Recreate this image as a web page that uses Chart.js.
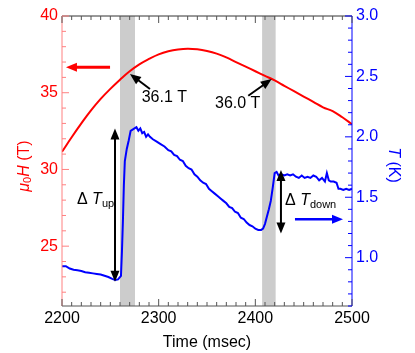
<!DOCTYPE html>
<html>
<head>
<meta charset="utf-8">
<script src="https://cdn.jsdelivr.net/npm/chart.js@4"></script>
<style>
  html,body{margin:0;padding:0;background:#fff}
</style>
</head>
<body>
<canvas id="mychart" width="415" height="353"></canvas>
<script>
// magnetic field pulse (left axis, T)
var fieldTime=[2200,2210,2220,2230,2240,2250,2260,2270,2280,2290,2300,2310,2320,2330,2340,2350,2360,2370,2380,2390,2400,2410,2420,2430,2440,2450,2460,2470,2480,2490,2500]
var fieldValues=[31.15,32.1,33.0,33.85,34.6,35.25,35.85,36.4,36.85,37.2,37.5,37.7,37.82,37.87,37.83,37.72,37.55,37.3,37.0,36.7,36.4,36.1,35.8,35.45,35.1,34.75,34.4,34.05,33.8,33.4,32.95]

// sample temperature (right axis, K)
var tempTime=[2200,2204,2208,2212,2216,2220,2224,2228,2232,2236,2240,2244,2248,2252,2255,2258,2261,2262,2263,2264,2265,2267,2269,2271,2273,2275,2277,2279,2281,2283,2285,2287,2289,2291,2294,2298,2302,2306,2310,2313,2316,2319,2322,2325,2328,2331,2334,2337,2340,2343,2346,2349,2352,2355,2358,2361,2364,2367,2370,2373,2376,2379,2382,2385,2388,2391,2394,2397,2400,2403,2406,2408,2410,2412,2414,2416,2418,2420,2422,2424,2427,2430,2433,2436,2439,2442,2445,2448,2451,2454,2457,2460,2463,2466,2469,2472,2474,2476,2478,2481,2484,2486,2488,2491,2494,2497,2500]
var tempValues=[0.93,0.93,0.91,0.90,0.895,0.89,0.88,0.875,0.87,0.865,0.86,0.85,0.84,0.825,0.815,0.82,0.85,1.05,1.3,1.6,1.8,1.9,1.97,2.05,2.06,2.07,2.08,2.05,2.07,2.03,2.04,2.0,2.02,2.0,1.98,1.96,1.94,1.92,1.89,1.88,1.85,1.84,1.81,1.80,1.76,1.74,1.73,1.69,1.67,1.64,1.62,1.61,1.57,1.55,1.53,1.51,1.49,1.47,1.45,1.42,1.41,1.38,1.37,1.33,1.32,1.29,1.27,1.26,1.24,1.23,1.23,1.24,1.28,1.34,1.40,1.47,1.58,1.70,1.71,1.68,1.69,1.68,1.69,1.68,1.69,1.67,1.66,1.68,1.66,1.67,1.66,1.68,1.67,1.64,1.66,1.63,1.70,1.64,1.63,1.63,1.62,1.57,1.57,1.56,1.57,1.56,1.57]

var timeTicks=[2200,2300,2400,2500]
var fieldTicks=[25,30,35,40]
var tempTicks=[1.0,1.5,2.0,2.5,3.0]

// shaded time windows
var bands=[[2260,2275.5],[2407,2421]]

var RED='#ff0000', BLUE='#0000ff'
var FONT='"Liberation Sans", Arial, sans-serif'

// arrows and labels, placed in data units
var arrows=[
  {x1:2249.7,y1:36.66,x2:2204.1,y2:36.66,axis:'yL',color:RED,width:3,both:false},
  {x1:2441,y1:1.317,x2:2490.7,y2:1.317,axis:'yR',color:BLUE,width:2.5,both:false},
  {x1:2254.8,y1:0.80,x2:2254.8,y2:2.07,axis:'yR',color:'#000',width:2,both:true},
  {x1:2426.5,y1:1.20,x2:2426.5,y2:1.725,axis:'yR',color:'#000',width:2,both:true},
  {x1:2291,y1:35.24,x2:2270.3,y2:36.22,axis:'yL',color:'#000',width:2,both:false},
  {x1:2392.7,y1:34.8,x2:2416.9,y2:35.89,axis:'yL',color:'#000',width:2,both:false}
]
var labels=[
  {x:2282.4,y:34.7,axis:'yL',parts:[['36.1 T','16px']]},
  {x:2358.3,y:34.31,axis:'yL',parts:[['36.0 T','16px']]}
]

function drawArrowHead(ctx,x1,y1,x2,y2,len,half){
  var ang=Math.atan2(y2-y1,x2-x1)
  ctx.beginPath()
  ctx.moveTo(x2,y2)
  ctx.lineTo(x2-len*Math.cos(ang)+half*Math.sin(ang),y2-len*Math.sin(ang)-half*Math.cos(ang))
  ctx.lineTo(x2-len*Math.cos(ang)-half*Math.sin(ang),y2-len*Math.sin(ang)+half*Math.cos(ang))
  ctx.closePath()
  ctx.fill()
}

function drawParts(ctx,parts,x,y,align){
  var total=0
  parts.forEach(function(p){ctx.font=(p[2]?p[2]+' ':'')+p[1]+' '+FONT; total+=ctx.measureText(p[0]).width})
  var cx=align=='center'?x-total/2:x
  parts.forEach(function(p){
    ctx.font=(p[2]?p[2]+' ':'')+p[1]+' '+FONT
    ctx.fillText(p[0],cx,y+(p[3]||0))
    cx+=ctx.measureText(p[0]).width
  })
}

function minorTicks(ctx,scale,n0,n1,div,majorEvery,pos,vertical,len1,len2){
  for(var i=n0;i<=n1;i++){
    var p=scale.getPixelForValue(i/div)
    var l=(i%majorEvery==0)?len1:len2
    ctx.beginPath()
    if(vertical){ctx.moveTo(pos,p);ctx.lineTo(pos+l,p)}
    else{ctx.moveTo(p,pos);ctx.lineTo(p,pos+l)}
    ctx.stroke()
  }
}

var extras={
  id:'extras',
  beforeDatasetsDraw:function(chart){
    var ctx=chart.ctx, a=chart.chartArea, xs=chart.scales.x
    ctx.save()
    ctx.fillStyle='#cccccc'
    bands.forEach(function(b){
      var p1=xs.getPixelForValue(b[0]), p2=xs.getPixelForValue(b[1])
      ctx.fillRect(p1,a.top,p2-p1,a.bottom-a.top)
    })
    ctx.restore()
  },
  afterDraw:function(chart){
    var ctx=chart.ctx, a=chart.chartArea, s=chart.scales
    ctx.save()
    ctx.lineWidth=1

    // frame
    ctx.strokeStyle='#333'
    ctx.beginPath();ctx.moveTo(a.left,a.top);ctx.lineTo(a.right,a.top);ctx.stroke()
    ctx.strokeStyle='#555'
    ctx.beginPath();ctx.moveTo(a.left,a.bottom);ctx.lineTo(a.right,a.bottom);ctx.stroke()
    ctx.strokeStyle='#ff8080'
    ctx.beginPath();ctx.moveTo(a.left,a.top);ctx.lineTo(a.left,a.bottom);ctx.stroke()
    ctx.strokeStyle=BLUE
    ctx.beginPath();ctx.moveTo(a.right,a.top);ctx.lineTo(a.right,a.bottom);ctx.stroke()

    // inside ticks
    ctx.strokeStyle='#555'
    minorTicks(ctx,s.x,220,250,0.1,10,a.bottom,false,-7,-4)
    minorTicks(ctx,s.x,220,250,0.1,10,a.top,false,7,4)
    ctx.strokeStyle='#ff8080'
    minorTicks(ctx,s.yL,22,40,1,5,a.left,true,7,4)
    ctx.strokeStyle=BLUE
    minorTicks(ctx,s.yR,6,30,10,5,a.right,true,-7,-4)

    // arrows
    arrows.forEach(function(ar){
      var X1=s.x.getPixelForValue(ar.x1), Y1=s[ar.axis].getPixelForValue(ar.y1)
      var X2=s.x.getPixelForValue(ar.x2), Y2=s[ar.axis].getPixelForValue(ar.y2)
      ctx.strokeStyle=ar.color; ctx.fillStyle=ar.color; ctx.lineWidth=ar.width
      var ang=Math.atan2(Y2-Y1,X2-X1), cut=8
      ctx.beginPath()
      ctx.moveTo(ar.both?X1+cut*Math.cos(ang):X1,ar.both?Y1+cut*Math.sin(ang):Y1)
      ctx.lineTo(X2-cut*Math.cos(ang),Y2-cut*Math.sin(ang))
      ctx.stroke()
      drawArrowHead(ctx,X1,Y1,X2,Y2,11,4.5)
      if(ar.both) drawArrowHead(ctx,X2,Y2,X1,Y1,11,4.5)
    })

    // text labels
    ctx.fillStyle='#000'
    ctx.textBaseline='middle'
    labels.forEach(function(l){
      drawParts(ctx,l.parts,s.x.getPixelForValue(l.x),s[l.axis].getPixelForValue(l.y),'left')
    })
    ctx.textBaseline='alphabetic'
    drawParts(ctx,[['\u0394 ','16px'],['T','16px','italic'],['up','11px','',3]],s.x.getPixelForValue(2215.5),s.yR.getPixelForValue(1.444),'left')
    drawParts(ctx,[['\u0394 ','16px'],['T','16px','italic'],['down','11px','',3]],s.x.getPixelForValue(2430.7),s.yR.getPixelForValue(1.436),'left')

    // axis titles
    ctx.textBaseline='middle'
    ctx.fillStyle='#000'
    drawParts(ctx,[['Time (msec)','16px']],(a.left+a.right)/2,343,'center')

    ctx.save()
    ctx.translate(25,166)
    ctx.rotate(-Math.PI/2)
    ctx.fillStyle=RED
    drawParts(ctx,[['\u03bc','16px','italic'],['0','11px','',3],['H','16px','italic'],[' (T)','16px']],0,0,'center')
    ctx.restore()

    ctx.save()
    ctx.translate(393,165)
    ctx.rotate(Math.PI/2)
    ctx.fillStyle=BLUE
    drawParts(ctx,[['T','16px','italic'],[' (K)','16px']],0,0,'center')
    ctx.restore()

    ctx.restore()
  }
}

var fieldPts=fieldTime.map(function(t,i){return {x:t,y:fieldValues[i]}})
var tempPts=tempTime.map(function(t,i){return {x:t,y:tempValues[i]}})

var mychart=document.getElementById('mychart').getContext('2d')
var chart=new Chart(mychart,{
  type:'line',
  data:{
    datasets:[
      {label:'Field',data:fieldPts,yAxisID:'yL',borderColor:RED,borderWidth:2,pointRadius:0,tension:0.4,fill:false},
      {label:'Temperature',data:tempPts,yAxisID:'yR',borderColor:BLUE,borderWidth:2,pointRadius:0,tension:0,fill:false}
    ]
  },
  options:{
    responsive:false,
    animation:false,
    layout:{padding:{top:16,left:0,right:0,bottom:0}},
    plugins:{legend:{display:false},tooltip:{enabled:false}},
    scales:{
      x:{
        type:'linear',min:2200,max:2500,
        grid:{display:false,drawTicks:false},border:{display:false},
        afterBuildTicks:function(sc){sc.ticks=timeTicks.map(function(v){return {value:v}})},
        afterFit:function(sc){sc.height=47},
        ticks:{color:'#000',padding:3,font:{family:FONT,size:16},maxRotation:0,callback:function(v){return String(v)}}
      },
      yL:{
        type:'linear',position:'left',min:21.1,max:40,
        grid:{display:false,drawTicks:false},border:{display:false},
        afterBuildTicks:function(sc){sc.ticks=fieldTicks.map(function(v){return {value:v}})},
        afterFit:function(sc){sc.width=62},
        ticks:{color:RED,padding:4,font:{family:FONT,size:16}}
      },
      yR:{
        type:'linear',position:'right',min:0.6,max:3.0,
        grid:{display:false,drawTicks:false},border:{display:false},
        afterBuildTicks:function(sc){sc.ticks=tempTicks.map(function(v){return {value:v}})},
        afterFit:function(sc){sc.width=63},
        ticks:{color:BLUE,padding:4,font:{family:FONT,size:16},callback:function(v){return v.toFixed(1)}}
      }
    }
  },
  plugins:[extras]
})
</script>
</body>
</html>
